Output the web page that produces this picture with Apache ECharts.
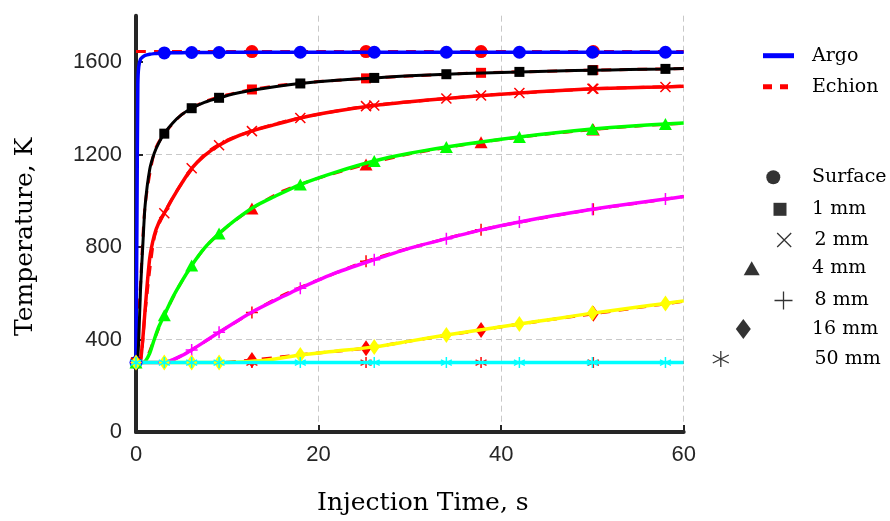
<!DOCTYPE html>
<html><head><meta charset="utf-8">
<script src="https://cdn.jsdelivr.net/npm/echarts@6/dist/echarts.min.js"></script>
<style>html,body{margin:0;padding:0;background:#fff}#c{width:890px;height:521px}</style>
</head><body><div id="c"></div><script>
// ---- data ----
const xTicks = [0, 20, 40, 60];
const yTicks = [0, 400, 800, 1200, 1600];

const argoTime = [0, 0.1, 0.2, 0.3, 0.5, 0.75, 1, 1.5, 2, 2.5, 3.1, 4, 5, 6.1, 7.5, 9.1, 11, 13, 15, 18, 22, 26.1, 30, 34, 38, 42, 46, 50, 54, 58, 60];
const argoSurface = [300, 900, 1500, 1580, 1612, 1622, 1628, 1633, 1636, 1638, 1639, 1640, 1640, 1641, 1641, 1641, 1642, 1642, 1642, 1642, 1642, 1642, 1642, 1642, 1642, 1642, 1642, 1642, 1642, 1642, 1642];
const argo1mm = [300, 300, 320, 400, 620, 810, 980, 1135, 1205, 1250, 1290, 1335, 1372, 1400, 1425, 1445, 1465, 1480, 1492, 1507, 1521, 1531, 1540, 1547, 1552, 1557, 1561, 1564, 1567, 1570, 1572];
const argo2mm = [300, 300, 300, 300, 310, 405, 530, 750, 850, 905, 946, 1010, 1075, 1140, 1195, 1240, 1277, 1305, 1327, 1358, 1388, 1412, 1428, 1442, 1455, 1466, 1476, 1484, 1489, 1492, 1495];
const argo4mm = [300, 300, 300, 300, 300, 300, 305, 340, 400, 455, 505, 580, 650, 720, 795, 858, 920, 975, 1015, 1070, 1125, 1172, 1205, 1232, 1255, 1276, 1294, 1310, 1322, 1332, 1336];
const argo8mm = [300, 300, 300, 300, 300, 300, 300, 300, 300, 300, 301, 312, 330, 355, 390, 431, 478, 525, 565, 622, 690, 745, 795, 836, 875, 908, 937, 963, 986, 1007, 1018];
const argo16mm = [300, 300, 300, 300, 300, 300, 300, 300, 300, 300, 300, 300, 300, 300, 300, 300, 302, 307, 315, 333, 350, 368, 393, 419, 443, 467, 490, 514, 535, 556, 567];
const argo50mm = [300, 300, 300, 300, 300, 300, 300, 300, 300, 300, 300, 300, 300, 300, 300, 300, 300, 300, 300, 300, 300, 300, 300, 300, 300, 300, 300, 300, 300, 300, 300];
const argoMarks = [0, 3.1, 6.1, 9.1, 18, 26.1, 34, 42, 50, 58];

const echionTime = [0, 0.5, 1, 2, 3, 5, 7.5, 10, 12.7, 16, 20, 25.2, 30, 37.8, 44, 50.1, 55, 60];
const echionSurface = [1645, 1645, 1645, 1645, 1645, 1645, 1645, 1645, 1645, 1645, 1645, 1645, 1645, 1645, 1645, 1645, 1645, 1645];
const echion1mm = [300, 640, 980, 1210, 1285, 1372, 1428, 1458, 1481, 1500, 1515, 1529, 1539, 1553, 1559, 1565, 1568, 1572];
const echion2mm = [300, 310, 520, 840, 940, 1075, 1200, 1262, 1301, 1340, 1374, 1409, 1428, 1455, 1470, 1484, 1490, 1495];
const echion4mm = [300, 300, 305, 400, 498, 650, 795, 888, 966, 1040, 1098, 1157, 1203, 1253, 1284, 1308, 1323, 1335];
const echion8mm = [300, 300, 300, 300, 300, 330, 390, 453, 517, 590, 658, 738, 795, 874, 922, 963, 990, 1018];
const echion16mm = [300, 300, 300, 300, 300, 300, 300, 302, 311, 325, 342, 362, 393, 441, 478, 511, 538, 565];
const echion50mm = [300, 300, 300, 300, 300, 300, 300, 300, 300, 300, 300, 300, 300, 300, 300, 300, 300, 300];
const echionMarks = [12.7, 25.2, 37.8, 50.1];

const depthNames = ['Surface', '1 mm', '2 mm', '4 mm', '8 mm', '16 mm', '50 mm'];
const argoSets = [argoSurface, argo1mm, argo2mm, argo4mm, argo8mm, argo16mm, argo50mm];
const echionSets = [echionSurface, echion1mm, echion2mm, echion4mm, echion8mm, echion16mm, echion50mm];

// ---- styles ----
const SERIF = 'DejaVu Serif';
const SANS = 'Liberation Sans';
const argoColors = ['#0000ff', '#000000', '#ff0000', '#00ff00', '#ff00ff', '#ffff00', '#00ffff'];
const argoWidths = [3.5, 3, 3.5, 3.5, 3.5, 3.5, 3.5];
const P_X = 'path://M0,0L10,10M0,10L10,0';
const P_PLUS = 'path://M5,0L5,10M0,5L10,5';
const P_AST = 'path://M5,0L5,10M0.67,2.5L9.33,7.5M0.67,7.5L9.33,2.5';
const markerStyles = [
  {symbol: 'circle', size: 13, stroke: false},
  {symbol: 'rect', size: 10, stroke: false},
  {symbol: P_X, size: 10, stroke: true},
  {symbol: 'triangle', size: [13, 12], stroke: false},
  {symbol: P_PLUS, size: 12, stroke: true},
  {symbol: 'diamond', size: [11, 16], stroke: false},
  {symbol: P_AST, size: 11, stroke: true}
];

function buildPoints(times, vals, marks, size) {
  return times.map((t, i) => ({value: [t, vals[i]], symbolSize: marks.indexOf(t) >= 0 ? size : 0}));
}
function itemStyleFor(ms, color) {
  return ms.stroke ? {color: 'none', borderColor: color, borderWidth: 1.5}
                   : {color: color, borderWidth: 0};
}

const series = [];
echionSets.forEach((vals, k) => {
  const ms = markerStyles[k];
  series.push({
    type: 'line', name: 'Echion-' + depthNames[k], silent: true,
    data: buildPoints(echionTime, vals, echionMarks, ms.size),
    symbol: ms.symbol, showSymbol: true, smooth: 0.25,
    lineStyle: {color: '#ff0000', width: 3, type: [10, 8]},
    itemStyle: itemStyleFor(ms, '#ff0000'),
    z: 2
  });
});
argoSets.forEach((vals, k) => {
  const ms = markerStyles[k];
  series.push({
    type: 'line', name: 'Argo-' + depthNames[k], silent: true,
    data: buildPoints(argoTime, vals, argoMarks, ms.size),
    symbol: ms.symbol, showSymbol: true, smooth: 0.25,
    lineStyle: {color: argoColors[k], width: argoWidths[k]},
    itemStyle: itemStyleFor(ms, argoColors[k]),
    z: 3
  });
});
// legend-only series
series.push({type: 'line', name: 'Argo', data: [], symbol: 'none', itemStyle: {color: '#0000ff'}, lineStyle: {color: '#0000ff', width: 5}});
series.push({type: 'line', name: 'Echion', data: [], symbol: 'none', itemStyle: {color: '#ff0000'}, lineStyle: {color: '#ff0000', width: 5, type: [9, 8]}});
depthNames.forEach((n, k) => {
  series.push({type: 'scatter', name: n, data: [], symbol: markerStyles[k].symbol, itemStyle: itemStyleFor(markerStyles[k], '#000')});
});

const legTxt = {fontFamily: SERIF, fontSize: 19, color: '#000', lineHeight: 22};
const TEXT_X = 812;
const legends = [
  {
    data: [{name: 'Argo', icon: 'path://M0,0H31V5H0Z', itemStyle: {color: '#0000ff', borderWidth: 0}}],
    left: 763, top: 55.7 - 11, itemWidth: 31, itemHeight: 5, padding: 0, selectedMode: false, symbolKeepAspect: false,
    textStyle: Object.assign({}, legTxt, {padding: [0, 0, 0, TEXT_X - (763 + 31 + 5)]})
  },
  {
    data: [{name: 'Echion', icon: 'path://M0,0H9V5H0ZM17,0H25V5H17Z', itemStyle: {color: '#ff0000', borderWidth: 0}}],
    left: 763, top: 86.7 - 11, itemWidth: 25, itemHeight: 5, padding: 0, selectedMode: false, symbolKeepAspect: false,
    textStyle: Object.assign({}, legTxt, {padding: [0, 0, 0, TEXT_X - (763 + 25 + 5)]})
  }
];
const legPos = [[773.3, 177.3, 14, 14], [780, 209.3, 13, 13], [781.7, 240, 14, 14], [751.7, 268.3, 16, 14], [781, 300, 18, 18], [743.3, 329, 15, 20], [718.3, 359, 16, 16]];
const legendIcons = ['circle', 'rect', P_X, 'triangle', P_PLUS, 'diamond', P_AST];
depthNames.forEach((n, k) => {
  const [cx, cy, w, h] = legPos[k];
  const ms = markerStyles[k];
  legends.push({
    data: [{name: n, icon: legendIcons[k], itemStyle: ms.stroke ? {color: 'none', borderColor: '#000', borderWidth: 1.3} : {color: '#000', borderWidth: 0}}],
    left: cx - w / 2, top: cy - Math.max(h, 22) / 2,
    itemWidth: w, itemHeight: h, padding: 0, selectedMode: false, symbolKeepAspect: false,
    textStyle: Object.assign({}, legTxt, {padding: [0, 0, 0, TEXT_X - (cx + w / 2 + 5)]})
  });
});

const axisCol = '#262626';
const option = {
  animation: false,
  backgroundColor: '#fff',
  grid: {left: 136, right: 206.3, top: 15.7, bottom: 86.8},
  legend: legends,
  xAxis: {
    type: 'value', min: xTicks[0], max: xTicks[xTicks.length - 1], interval: xTicks[1] - xTicks[0],
    name: 'Injection Time, s', nameLocation: 'middle', nameGap: 59,
    nameTextStyle: {fontFamily: SERIF, fontSize: 25, color: '#000', padding: [0, 0, 0, 26]},
    axisLine: {lineStyle: {color: axisCol, width: 4}},
    axisTick: {inside: true, length: 7, lineStyle: {color: axisCol, width: 2}},
    axisLabel: {margin: 12, fontFamily: SANS, fontSize: 22, color: axisCol},
    splitLine: {show: true, lineStyle: {color: '#c8c8c8', width: 1, type: [6, 4]}}
  },
  yAxis: {
    type: 'value', min: 0, max: 1800, interval: yTicks[1] - yTicks[0],
    name: 'Temperature, K', nameLocation: 'middle', nameGap: 98, nameRotate: 90,
    nameTextStyle: {fontFamily: SERIF, fontSize: 25, color: '#000', padding: [0, 26, 0, 0]},
    axisLine: {show: true, lineStyle: {color: axisCol, width: 4}},
    axisTick: {show: true, inside: true, length: 7, customValues: yTicks, lineStyle: {color: axisCol, width: 2}},
    axisLabel: {margin: 14, fontFamily: SANS, fontSize: 22, color: axisCol, showMaxLabel: false,
      formatter: v => (yTicks.indexOf(v) >= 0 ? String(v) : '')},
    splitLine: {show: true, showMaxLine: false, lineStyle: {color: '#c8c8c8', width: 1, type: [6, 4]}}
  },
  series: series
};
const chart = echarts.init(document.getElementById('c'), null, {renderer: 'canvas'});
chart.setOption(option);
</script></body></html>
